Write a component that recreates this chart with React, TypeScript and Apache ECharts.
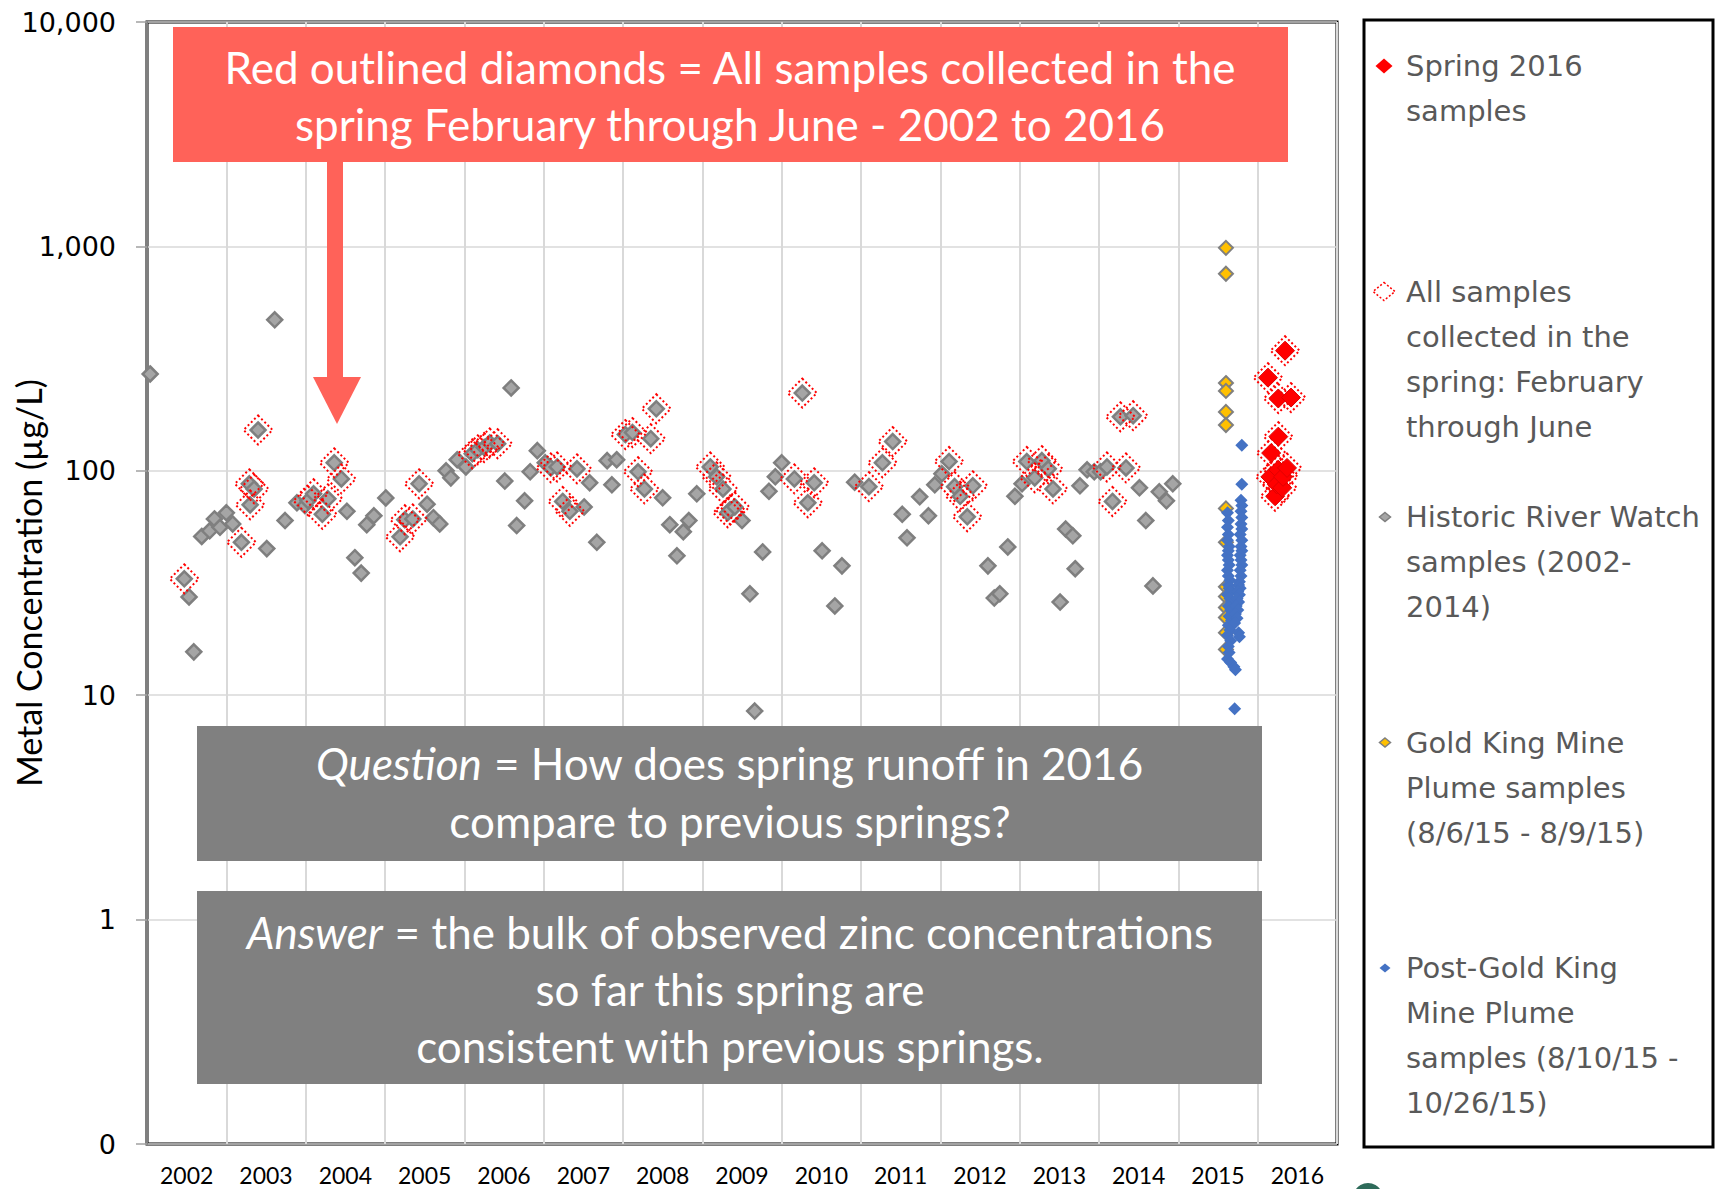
import React, { useEffect, useRef } from 'react';
import * as echarts from 'echarts';

const years = ['2002','2003','2004','2005','2006','2007','2008','2009','2010','2011','2012','2013','2014','2015','2016'];
const yTickLabels = ['0', '1', '10', '100', '1,000', '10,000'];

// [decimal year, concentration, spring flag]
const historic: number[][] = [
  [2002.04,270,0],[2002.47,33,1],[2002.53,27.4,0],[2002.59,15.6,0],[2002.69,51,0],[2002.79,54,0],[2002.85,61,0],[2002.92,56,0],
  [2003.00,65,0],[2003.08,58,0],[2003.19,48,1],[2003.29,87.5,1],[2003.30,70.5,1],[2003.35,83,1],[2003.40,152,1],[2003.51,45,0],
  [2003.61,471,0],[2003.74,60,0],[2003.89,72,0],[2003.99,70,0],
  [2004.03,73.5,1],[2004.10,79,1],[2004.21,64,1],[2004.28,75,1],[2004.36,108.5,1],[2004.45,92,1],[2004.52,66,0],[2004.62,41,0],
  [2004.70,35,0],[2004.77,57.5,0],[2004.86,63,0],
  [2005.01,75.7,0],[2005.19,50.8,1],[2005.25,60.5,1],[2005.35,61,1],[2005.43,87.5,1],[2005.53,71,0],[2005.61,61.8,0],[2005.69,58,0],
  [2005.77,100,0],[2005.83,93,0],[2005.91,112,0],
  [2006.02,104,0],[2006.10,119,1],[2006.17,124,1],[2006.25,127,1],[2006.32,133,1],[2006.42,132,1],[2006.51,90,0],[2006.59,234,0],
  [2006.66,57,0],[2006.76,73.5,0],[2006.83,99,0],[2006.92,123,0],
  [2007.02,108.5,0],[2007.09,103,1],[2007.17,104,1],[2007.24,73,1],[2007.33,66,1],[2007.42,102,1],[2007.51,69,0],[2007.58,88.4,0],
  [2007.67,48,0],[2007.80,111,0],[2007.86,86.6,0],[2007.92,112,0],
  [2008.03,145,1],[2008.12,148,1],[2008.19,99,1],[2008.27,83,1],[2008.35,139,1],[2008.42,189,1],[2008.50,75.8,0],[2008.59,57.5,0],
  [2008.68,41.8,0],[2008.76,53.5,0],[2008.83,60,0],[2008.93,79,0],
  [2009.10,104,1],[2009.18,94,1],[2009.26,83,1],[2009.32,65,1],[2009.35,67,1],[2009.41,69,1],[2009.50,60,0],[2009.60,28.3,0],
  [2009.66,8.5,0],[2009.76,43.5,0],[2009.84,81,0],[2009.92,94,0],
  [2010.00,108.5,0],[2010.16,92,1],[2010.26,222,1],[2010.33,72,1],[2010.41,88.4,1],[2010.51,44,0],[2010.67,25,0],[2010.76,37.7,0],
  [2010.92,89,0],
  [2011.10,85,1],[2011.27,108.5,1],[2011.40,135,1],[2011.52,64,0],[2011.58,50.3,0],[2011.74,76.6,0],[2011.85,63,0],[2011.93,86.6,0],
  [2012.02,97,0],[2012.11,110,1],[2012.18,85,1],[2012.25,77,1],[2012.34,62.4,1],[2012.41,85.7,1],[2012.60,37.7,0],[2012.68,27.1,0],
  [2012.75,28.3,0],[2012.85,45.8,0],[2012.94,77,0],
  [2013.03,87.5,0],[2013.09,110,1],[2013.19,93,1],[2013.28,111,1],[2013.36,102,1],[2013.42,83,1],[2013.51,26,0],[2013.58,55,0],
  [2013.67,51.3,0],[2013.70,36.6,0],[2013.76,85.7,0],[2013.85,101,0],[2013.94,99,0],
  [2014.02,99,0],[2014.10,104,1],[2014.17,73,1],[2014.27,174,1],[2014.34,103,1],[2014.43,176,1],[2014.51,84,0],[2014.59,60,0],
  [2014.68,30.7,0],[2014.76,80.6,0],[2014.85,73.5,0],[2014.93,87.5,0],
];

const goldKing: number[][] = [
  [2015.60,985],[2015.60,755],[2015.60,246],[2015.60,227],[2015.60,183],[2015.60,160],[2015.60,68],[2015.60,48],
  [2015.60,30.4],[2015.60,27.5],[2015.60,24.6],[2015.60,22.2],[2015.60,19],[2015.60,16],
];

const postGoldKing: number[][] = [
  [2015.62,65],[2015.63,60],[2015.62,56],[2015.63,52],[2015.62,49],[2015.64,46],[2015.63,44],[2015.62,42],[2015.63,40],
  [2015.64,38],[2015.62,36],[2015.63,34],[2015.65,32.5],[2015.63,31],[2015.64,30],[2015.66,29],[2015.62,28],[2015.65,27],
  [2015.67,26],[2015.63,25],[2015.66,24],[2015.68,23.5],[2015.64,22.5],[2015.67,21.5],[2015.63,20.5],[2015.65,19.5],
  [2015.62,18.5],[2015.66,17.5],[2015.63,16.5],[2015.64,15.5],[2015.62,14.5],[2015.66,14],[2015.70,13.4],[2015.72,13],
  [2015.71,8.7],
  [2015.80,130],[2015.80,87],[2015.79,74],[2015.80,70],[2015.79,66],[2015.80,62],[2015.79,58],[2015.80,55],[2015.78,52],
  [2015.80,49],[2015.79,46],[2015.80,44],[2015.78,42],[2015.79,40],[2015.80,38],[2015.78,36],[2015.79,34],[2015.77,32],
  [2015.76,31],[2015.78,30],[2015.75,29],[2015.77,28],[2015.74,27],[2015.76,26],[2015.73,25],[2015.75,24],[2015.72,23],
  [2015.74,22],[2015.71,21],[2015.76,19],[2015.77,18.2],
];

const spring2016: number[][] = [
  [2016.13,260],[2016.17,120],[2016.16,94],[2016.22,77],[2016.26,210],[2016.26,142],[2016.26,101],[2016.24,87],
  [2016.31,84],[2016.32,94],[2016.345,343],[2016.37,103],[2016.42,212],
];

const legendItems = [
  { lines: ['Spring 2016', 'samples'], kind: 'red' },
  { lines: ['All samples', 'collected in the', 'spring: February', 'through June'], kind: 'dotted' },
  { lines: ['Historic River Watch', 'samples (2002-', '2014)'], kind: 'gray' },
  { lines: ['Gold King Mine', 'Plume samples', '(8/6/15 - 8/9/15)'], kind: 'gold' },
  { lines: ['Post-Gold King', 'Mine Plume', 'samples (8/10/15 -', '10/26/15)'], kind: 'blue' },
];

const diamond = (cx: number, cy: number, w: number, h: number) => [
  [cx, cy - h / 2], [cx + w / 2, cy], [cx, cy + h / 2], [cx - w / 2, cy],
];

export default function App() {
  const ref = useRef<HTMLDivElement>(null);
  useEffect(() => {
    document.body.style.margin = '0';
    const chart = echarts.init(ref.current!, null, { renderer: 'svg' });

    const springAll = historic.filter(p => p[2] === 1).map(p => [p[0], p[1]]).concat(spring2016);

    const legendGraphics: any[] = [
      { type: 'rect', shape: { x: 1364, y: 20, width: 349, height: 1127 }, style: { fill: '#fff', stroke: '#000', lineWidth: 3 }, z: 10 },
    ];
    legendItems.forEach((it, i) => {
      const cy = 66 + i * 225.5;
      let icon: any;
      if (it.kind === 'red') icon = { shape: { points: diamond(1384, cy, 17, 15) }, style: { fill: '#FF0000' } };
      else if (it.kind === 'dotted') icon = { shape: { points: diamond(1384, cy, 22, 18) }, style: { fill: 'none', stroke: '#FF0000', lineWidth: 1.5, lineDash: [2, 2] } };
      else if (it.kind === 'gray') icon = { shape: { points: diamond(1385, cy, 11, 9) }, style: { fill: '#A5A5A5', stroke: '#7F7F7F', lineWidth: 1.5 } };
      else if (it.kind === 'gold') icon = { shape: { points: diamond(1385, cy, 11, 9) }, style: { fill: '#FFC000', stroke: '#7F7F7F', lineWidth: 1.5 } };
      else icon = { shape: { points: diamond(1385, cy, 11, 9) }, style: { fill: '#4472C4' } };
      legendGraphics.push({ type: 'polygon', z: 11, ...icon });
      legendGraphics.push({
        type: 'text', z: 11, x: 1406, y: cy - 22.5,
        style: { text: it.lines.join('\n'), fill: '#595959', font: '29px "DejaVu Sans"', lineHeight: 45, align: 'left', verticalAlign: 'top' },
      });
    });

    const annoColor = '#FF6259';
    const graphics: any[] = [
      { type: 'rect', shape: { x: 173, y: 27, width: 1115, height: 135 }, style: { fill: annoColor }, z: 20 },
      {
        type: 'text', x: 730, y: 95, z: 21,
        style: { text: 'Red outlined diamonds = All samples collected in the\nspring February through June - 2002 to 2016', fill: '#fff', font: '44px Lato', lineHeight: 57, align: 'center', verticalAlign: 'middle' },
      },
      { type: 'rect', shape: { x: 327, y: 162, width: 16, height: 216 }, style: { fill: annoColor }, z: 20 },
      { type: 'polygon', shape: { points: [[313, 377], [361, 377], [337, 424]] }, style: { fill: annoColor }, z: 20 },
      { type: 'rect', shape: { x: 197, y: 726, width: 1065, height: 135 }, style: { fill: '#808080' }, z: 20 },
      {
        type: 'text', x: 730, y: 792, z: 21,
        style: {
          text: '{i|Question} = How does spring runoff in 2016\ncompare to previous springs?',
          fill: '#fff', font: '44px Lato', lineHeight: 58, align: 'center', verticalAlign: 'middle',
          rich: { i: { fontStyle: 'italic', fontFamily: 'Lato', fontSize: 44, fill: '#fff', lineHeight: 58 } },
        },
      },
      { type: 'rect', shape: { x: 197, y: 891, width: 1065, height: 193 }, style: { fill: '#808080' }, z: 20 },
      {
        type: 'text', x: 730, y: 989, z: 21,
        style: {
          text: '{i|Answer} = the bulk of observed zinc concentrations\nso far this spring are\nconsistent with previous springs.',
          fill: '#fff', font: '44px Lato', lineHeight: 57, align: 'center', verticalAlign: 'middle',
          rich: { i: { fontStyle: 'italic', fontFamily: 'Lato', fontSize: 44, fill: '#fff', lineHeight: 57 } },
        },
      },
      { type: 'circle', shape: { cx: 1368, cy: 1198, r: 15 }, style: { fill: '#2E6B5A' }, z: 5 },
      ...legendGraphics,
    ];

    chart.setOption({
      animation: false,
      backgroundColor: '#fff',
      grid: {
        left: 147, right: 388, top: 22, bottom: 45, show: true, borderColor: '#000', borderWidth: 3,
        backgroundColor: 'transparent', containLabel: false, outerBoundsMode: 'none',
      },
      xAxis: [
        {
          type: 'value', min: 2002, max: 2017, interval: 1,
          axisLine: { show: false }, axisTick: { show: false }, axisLabel: { show: false },
          splitLine: { show: true, lineStyle: { color: '#D9D9D9', width: 2 } },
        },
        {
          type: 'category', data: years, position: 'bottom', boundaryGap: true,
          axisLine: { show: false }, axisTick: { show: false }, splitLine: { show: false },
          axisLabel: { color: '#000', fontFamily: 'Lato', fontSize: 23, margin: 19 },
        },
      ],
      yAxis: {
        type: 'log', logBase: 10, min: 0.1, max: 10000,
        name: 'Metal Concentration (µg/L)', nameLocation: 'middle', nameRotate: 90, nameGap: 102,
        nameMoveOverlap: false,
        nameTextStyle: { color: '#000', fontFamily: 'Lato', fontSize: 34 },
        axisLine: { show: true, lineStyle: { color: '#7F7F7F', width: 2 } },
        axisTick: { show: true, inside: false, length: 11, lineStyle: { color: '#A0A0A0', width: 1.5 } },
        axisLabel: {
          color: '#000', fontFamily: 'DejaVu Sans', fontSize: 27, margin: 31,
          formatter: (v: number) => yTickLabels[Math.round(Math.log10(v)) + 1] ?? '',
        },
        splitLine: { show: true, lineStyle: { color: '#D9D9D9', width: 1.5 } },
        minorTick: { show: false }, minorSplitLine: { show: false },
      },
      series: [
        {
          name: 'Historic River Watch samples (2002-2014)', type: 'scatter', xAxisIndex: 0,
          data: historic.map(p => [p[0], p[1]]), symbol: 'diamond', symbolSize: 15,
          itemStyle: { color: '#A5A5A5', borderColor: '#7F7F7F', borderWidth: 2.5, opacity: 1 }, z: 2,
        },
        {
          name: 'All samples collected in the spring: February through June', type: 'scatter', xAxisIndex: 0,
          data: springAll, symbol: 'diamond', symbolSize: 29,
          itemStyle: { color: 'rgba(0,0,0,0)', borderColor: '#FF0000', borderWidth: 2, borderType: [2, 2.5], opacity: 1 }, z: 3,
        },
        {
          name: 'Gold King Mine Plume samples (8/6/15 - 8/9/15)', type: 'scatter', xAxisIndex: 0,
          data: goldKing, symbol: 'diamond', symbolSize: 14,
          itemStyle: { color: '#FFC000', borderColor: '#7F7F7F', borderWidth: 2, opacity: 1 }, z: 4,
        },
        {
          name: 'Post-Gold King Mine Plume samples (8/10/15 - 10/26/15)', type: 'scatter', xAxisIndex: 0,
          data: postGoldKing, symbol: 'diamond', symbolSize: 13,
          itemStyle: { color: '#4472C4', opacity: 1 }, z: 5,
        },
        {
          name: 'Spring 2016 samples', type: 'scatter', xAxisIndex: 0,
          data: spring2016, symbol: 'diamond', symbolSize: 19,
          itemStyle: { color: '#FF0000', borderColor: '#E00000', borderWidth: 1, opacity: 1 }, z: 6,
        },
      ],
      graphic: graphics,
    });
    return () => chart.dispose();
  }, []);
  return <div ref={ref} style={{ width: 1725, height: 1189 }} />;
}
